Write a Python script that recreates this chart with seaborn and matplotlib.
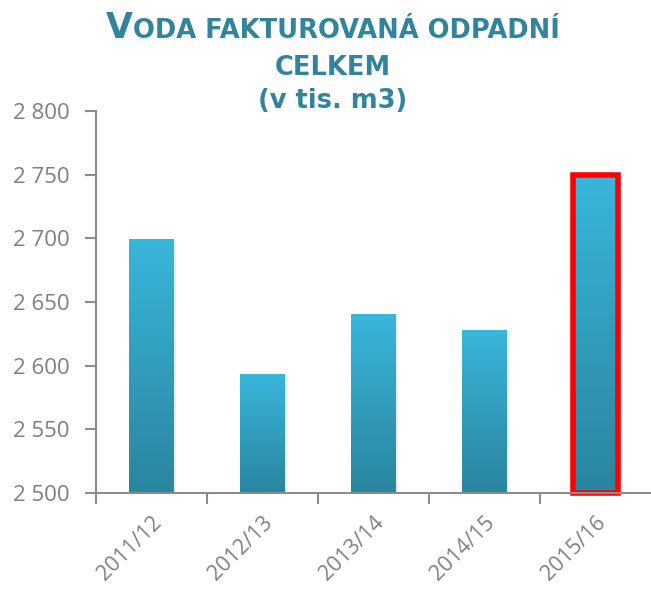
import numpy as np
import pandas as pd
import matplotlib
matplotlib.use("Agg")
import matplotlib.pyplot as plt
import seaborn as sns
from matplotlib.colors import LinearSegmentedColormap
from matplotlib.patches import Rectangle

categories = ["2011/12", "2012/13", "2013/14", "2014/15", "2015/16"]
values = [2699, 2593, 2640, 2628, 2750]
yticks = [2500, 2550, 2600, 2650, 2700, 2750, 2800]
ytick_labels = ["2 500", "2 550", "2 600", "2 650", "2 700", "2 750", "2 800"]
title_big = "V"
title_rest = "ODA FAKTUROVANÁ ODPADNÍ"
title_line2 = "CELKEM"
title_line3 = "(v tis. m3)"

sns.set_theme(style="white")
plt.rcParams["font.family"] = ["Open Sans", "DejaVu Sans"]

TEAL = "#31849B"
GRAY = "#7F7F7F"
SPINE = "#8C8C8C"
YMIN, YMAX = 2500, 2800

fig = plt.figure(figsize=(6.51, 5.91), dpi=100)
ax = fig.add_axes([96/651, 1-493/591, 1-96/651, (493-111)/591])

df = pd.DataFrame({"cat": categories, "val": values})
sns.barplot(data=df, x="cat", y="val", ax=ax, width=0.4, color="#35AED3",
            saturation=1, zorder=2)

cmap = LinearSegmentedColormap.from_list("g", ["#2A859E", "#39B6DB"])
grad = np.linspace(0, 1, 256).reshape(-1, 1)
patches = list(ax.patches)
for i, p in enumerate(patches):
    x0 = p.get_x()
    w = p.get_width()
    top = p.get_y() + p.get_height()
    p.set_visible(False)
    # subtle shadow
    sh = Rectangle((x0 + 0.015, YMIN), w + 0.008, top - YMIN - 1.2,
                   facecolor="#000000", alpha=0.07, edgecolor="none", zorder=1.5)
    ax.add_patch(sh)
    ax.imshow(grad, extent=(x0, x0 + w, YMIN, top), origin="lower",
              cmap=cmap, aspect="auto", zorder=2.5)
    if i == len(patches) - 1:
        border = Rectangle((x0, YMIN), w, top - YMIN, facecolor="none",
                           edgecolor="#FF0000", linewidth=4, zorder=3,
                           clip_on=False)
        ax.add_patch(border)
ax.set_xlim(-0.5, 4.5)
ax.set_ylim(YMIN, YMAX)

sns.despine(ax=ax)
for s in ["left", "bottom"]:
    ax.spines[s].set_color(SPINE)
    ax.spines[s].set_linewidth(1.5)
    ax.spines[s].set_zorder(4)

ax.set_yticks(yticks)
ax.set_yticklabels(ytick_labels, color=GRAY, fontsize=16)
ax.tick_params(axis="y", which="major", direction="out", length=8, width=1.5,
               color=SPINE, left=True, pad=11)

ax.set_xticks(range(len(categories)))
ax.set_xticklabels(categories, rotation=45, ha="right", rotation_mode="anchor",
                   color=GRAY, fontsize=15.5)
ax.tick_params(axis="x", which="major", length=0, pad=14)
ax.set_xticks([-0.5, 0.5, 1.5, 2.5, 3.5], minor=True)
ax.tick_params(axis="x", which="minor", direction="out", length=8, width=1.5,
               color=SPINE, bottom=True)
ax.set_xlabel("")
ax.set_ylabel("")

# Title with small caps effect
cx = 333 / 651
fb = dict(color=TEAL, fontweight="bold", family=["DejaVu Sans"])
renderer = fig.canvas.get_renderer()
t1 = fig.text(0, 0, title_big, fontsize=25, va="baseline", ha="left", **fb)
t2 = fig.text(0, 0, title_rest, fontsize=18.5, va="baseline", ha="left", **fb)
w1 = t1.get_window_extent(renderer).width
w2 = t2.get_window_extent(renderer).width
start = cx * 651 - (w1 + w2) / 2
base1 = 1 - 38/591
t1.set_position((start / 651, base1))
t2.set_position(((start + w1) / 651, base1))
fig.text(cx, 1 - 75/591, title_line2, fontsize=18.5, va="baseline", ha="center", **fb)
fig.text(cx, 1 - 108/591, title_line3, fontsize=18.5, va="baseline", ha="center", **fb)

fig.savefig("out.png", dpi=100)
